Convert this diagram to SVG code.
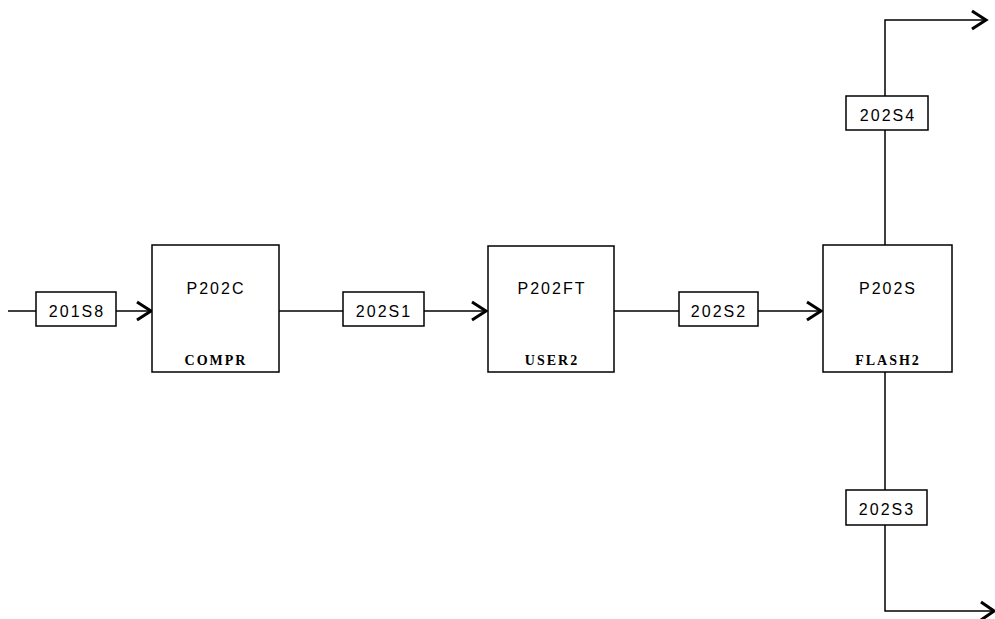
<svg xmlns="http://www.w3.org/2000/svg" width="995" height="619" viewBox="0 0 995 619">
<style>
.blk{fill:#fff;stroke:#000;stroke-width:1.5}
.lbl{fill:#fff;stroke:#000;stroke-width:1.5}
.ln{fill:none;stroke:#000;stroke-width:1.5}
.ah{fill:none;stroke:#000;stroke-width:3;stroke-linejoin:miter}
.t1{font-family:"Liberation Sans",Arial,sans-serif;font-size:16px;text-anchor:middle;letter-spacing:2px;fill:#000}
.t2{font-family:"Liberation Serif","Times New Roman",serif;font-size:14px;font-weight:bold;text-anchor:middle;letter-spacing:2px;fill:#000}
</style>
<g id="connectors">
<path class="ln" d="M8,311 H150"/>
<path class="ah" d="M137,302 L151,311 L137,320"/>
<path class="ln" d="M279,311 H486"/>
<path class="ah" d="M472,302 L486,311 L472,320"/>
<path class="ln" d="M614,311 H821"/>
<path class="ah" d="M807,302 L821,311 L807,320"/>
<path class="ln" d="M885,245 V20 H985"/>
<path class="ah" d="M972,11 L986,20 L972,29"/>
<path class="ln" d="M885,372 V611 H992"/>
<path class="ah" d="M981,602 L994,611 L981,620"/>
</g>
<g id="s201S8"><rect class="lbl" x="36" y="292" width="80" height="34"/><text class="t1" x="77" y="317">201S8</text></g>
<g id="P202C"><rect class="blk" x="152" y="245" width="127" height="127"/><text class="t1" x="216" y="294">P202C</text><text class="t2" x="216" y="365">COMPR</text></g>
<g id="s202S1"><rect class="lbl" x="343" y="292" width="81" height="34"/><text class="t1" x="384" y="317">202S1</text></g>
<g id="P202FT"><rect class="blk" x="488" y="246" width="126" height="126"/><text class="t1" x="552" y="294">P202FT</text><text class="t2" x="552" y="365">USER2</text></g>
<g id="s202S2"><rect class="lbl" x="679" y="292" width="79" height="34"/><text class="t1" x="719" y="317">202S2</text></g>
<g id="P202S"><rect class="blk" x="823" y="245" width="129" height="127"/><text class="t1" x="888" y="294">P202S</text><text class="t2" x="888" y="365">FLASH2</text></g>
<g id="s202S4"><rect class="lbl" x="846" y="96" width="82" height="34"/><text class="t1" x="888" y="121">202S4</text></g>
<g id="s202S3"><rect class="lbl" x="846" y="490" width="81" height="35"/><text class="t1" x="887" y="515">202S3</text></g>
</svg>
